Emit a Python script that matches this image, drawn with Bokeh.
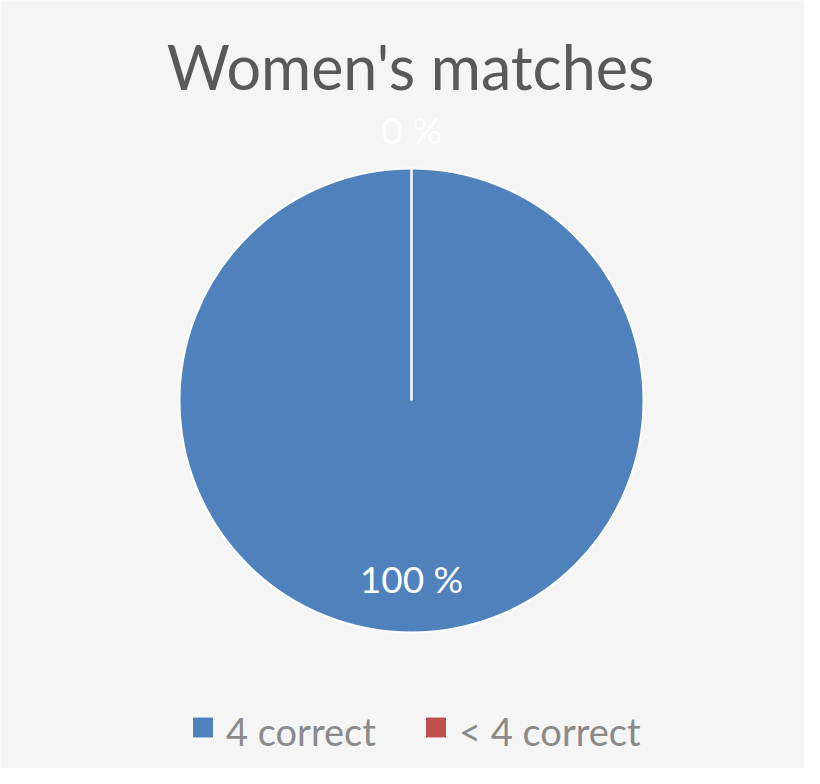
import math
from bokeh.plotting import figure
from bokeh.models import Range1d
from bokeh.core.properties import value
from bokeh.embed import file_html
from bokeh.resources import INLINE

title = "Women's matches"
categories = ["4 correct", "< 4 correct"]
values = [100, 0]
colors = ["#4f81bd", "#c0504d"]

W, H = 804, 784
FONT = "Lato"

p = figure(width=804, height=768, output_backend="svg", toolbar_location=None, title=None,
           x_range=Range1d(0, 804), y_range=Range1d(16, 784),
           min_border=0, outline_line_color=None, background_fill_color="#f5f5f5",
           border_fill_color="#f5f5f5")
p.axis.visible = False
p.grid.visible = False

# title
p.text(x=[410], y=[H - 66], text=[title], text_font=value(FONT), text_font_size="61px",
       text_color="#595959", text_align="center", text_baseline="middle")

# pie, starting at 12 o'clock and going clockwise
cx, cy, r = 411, H - 400, 232
total = sum(values)
cum = 0
bounds = []
for cat, v, c in zip(categories, values, colors):
    frac = v / total
    a_end = math.pi / 2 - cum * 2 * math.pi
    a_start = math.pi / 2 - (cum + frac) * 2 * math.pi
    if frac > 0:
        # fill in pieces so a full-circle slice still renders
        n = max(1, math.ceil(frac * 4))
        step = (a_end - a_start) / n
        for i in range(n):
            p.wedge(x=cx, y=cy, radius=r, start_angle=a_start + i * step,
                    end_angle=a_start + (i + 1) * step,
                    fill_color=c, line_color=c, line_width=1)
    bounds.append(a_end)
    mid = (a_start + a_end) / 2
    if frac > 0.1:
        lr = r * 0.767
    else:
        lr = r + 39
    lx = cx + lr * math.cos(mid)
    ly = cy + lr * math.sin(mid)
    p.text(x=[lx], y=[ly], text=["%d %%" % v], text_font=value(FONT), text_font_size="37px",
           text_color="white", text_align="center", text_baseline="middle")
    cum += frac

# slice borders
p.circle(x=[cx], y=[cy], radius=r, fill_color=None, line_color="white", line_width=2)
p.ray(x=[cx] * len(bounds), y=[cy] * len(bounds), length=r, angle=bounds,
      line_color="white", line_width=2)

# legend
leg_x = [202.5, 435.5]
for lx, cat, c in zip(leg_x, categories, colors):
    p.scatter(x=[lx], y=[H - 727], marker="square", size=21, fill_color=c,
              line_color="white", line_width=1)
    p.text(x=[lx + 23], y=[H - 730], text=[cat], text_font=value(FONT), text_font_size="38px",
           text_color="#8a8a8a", text_align="left", text_baseline="middle")

open("out.html", "w").write(file_html(p, INLINE))
